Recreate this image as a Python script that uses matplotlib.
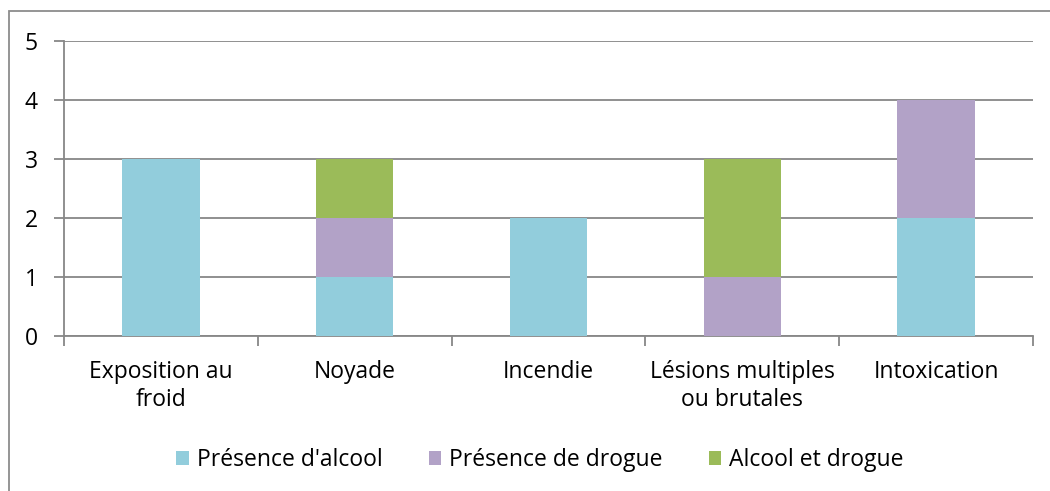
import matplotlib
matplotlib.use("Agg")
import matplotlib.pyplot as plt
from matplotlib.patches import Rectangle
import numpy as np

categories = ["Exposition au\nfroid", "Noyade", "Incendie", "Lésions multiples\nou brutales", "Intoxication"]
alcool = [3, 1, 2, 0, 2]
drogue = [0, 1, 0, 1, 2]
alcool_drogue = [0, 1, 0, 2, 0]
series_names = ["Présence d'alcool", "Présence de drogue", "Alcool et drogue"]
colors = ["#92CDDC", "#B2A2C7", "#9BBB59"]
yticks = [0, 1, 2, 3, 4, 5]

plt.rcParams['font.family'] = ['Open Sans', 'DejaVu Sans']
FS = 16.5

fig = plt.figure(figsize=(10.5, 4.91), dpi=100)
fig.patches.append(Rectangle((8.5/1050, -0.1), 1.2, 1 - 11/491 + 0.1, transform=fig.transFigure,
                             fill=False, edgecolor="#8C8C8C", linewidth=1.3))
ax = fig.add_axes([64/1050, 1 - 336/491, (1033-64)/1050, (336-41)/491])

x = np.arange(len(categories))
w = 0.4
b1 = np.array(alcool)
b2 = b1 + np.array(drogue)
ax.bar(x, alcool, w, color=colors[0], label=series_names[0], zorder=3)
ax.bar(x, drogue, w, bottom=b1, color=colors[1], label=series_names[1], zorder=3)
ax.bar(x, alcool_drogue, w, bottom=b2, color=colors[2], label=series_names[2], zorder=3)

ax.set_xlim(-0.5, len(categories) - 0.5)
ax.set_ylim(0, 5)
ax.set_yticks(yticks)
ax.set_yticklabels([str(v) for v in yticks], fontsize=FS)
ax.yaxis.grid(True, color="#878787", linewidth=1.3, zorder=0)
ax.set_axisbelow(True)

ax.set_xticks(x)
ax.set_xticklabels(categories, fontsize=FS, linespacing=1.22)
ax.set_xticks(np.arange(-0.5, len(categories), 1.0), minor=True)
ax.tick_params(axis='x', which='major', length=0, pad=17)
ax.tick_params(axis='x', which='minor', length=7, color="#878787", width=1.3)
ax.tick_params(axis='y', length=7, color="#878787", width=1.3, pad=12)

for s in ["top", "right"]:
    ax.spines[s].set_visible(False)
for s in ["left", "bottom"]:
    ax.spines[s].set_color("#878787")
    ax.spines[s].set_linewidth(1.3)

fig.legend(loc="center", bbox_to_anchor=(540/1050, 1 - 460/491), ncol=3, frameon=False,
           fontsize=FS, handlelength=0.55, handleheight=0.55, handletextpad=0.35, columnspacing=2.0)

fig.savefig("out.png", dpi=100)
